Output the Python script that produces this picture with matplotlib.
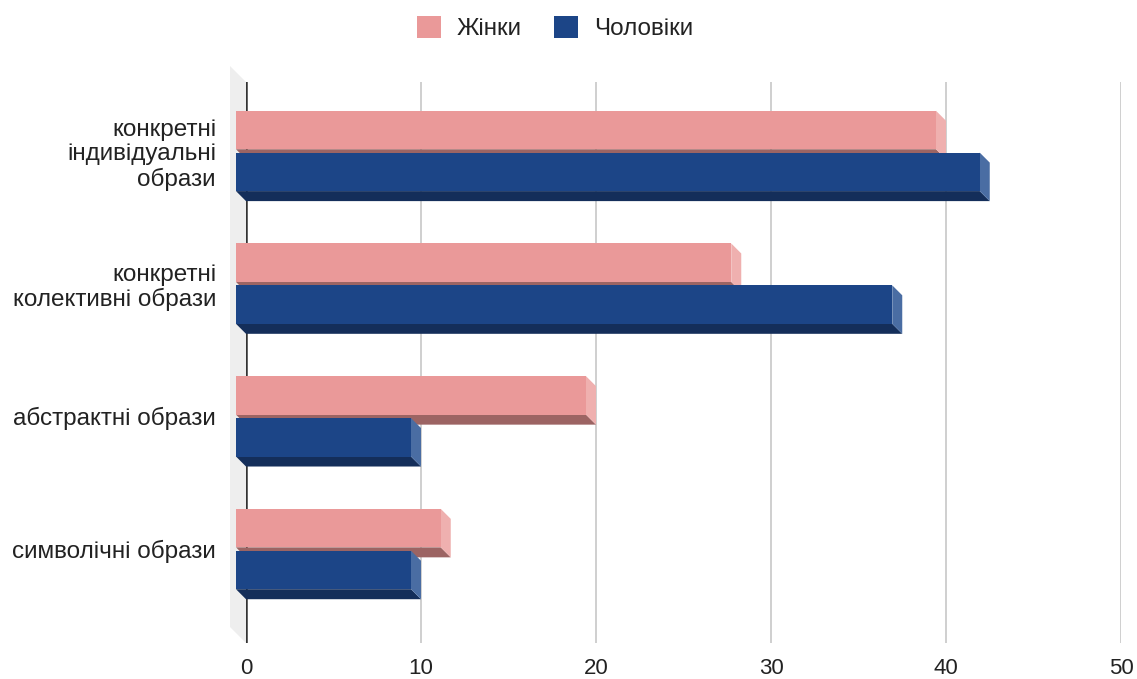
import matplotlib
matplotlib.use("Agg")
import numpy as np
import matplotlib.pyplot as plt
from matplotlib.patches import Polygon, Patch

plt.rcParams['font.family'] = ['Liberation Sans', 'DejaVu Sans']

# дані
categories = ["конкретні\nіндивідуальні\nобрази",
              "конкретні\nколективні образи",
              "абстрактні образи",
              "символічні образи"]
series_names = ["Жінки", "Чоловіки"]
women = [40, 28.3, 20, 11.7]
men = [42.5, 37.5, 10, 10]
xticks = [0, 10, 20, 30, 40, 50]

# кольори: лицьова грань, бокова грань, нижня грань
pink = ("#ea9999", "#efb0af", "#9c6463")
blue = ("#1c4587", "#4a6da3", "#142e5a")

W, H = 1137, 679
fig = plt.figure(figsize=(W / 100, H / 100), dpi=100)
ax = fig.add_axes([246 / W, (H - 643) / H, 875 / W, 561 / H])

xmax = 50
ytop, ybot = -0.5946, 3.633
ax.set_xlim(0, xmax)
ax.set_ylim(ybot, ytop)

# пікселі -> одиниці даних
px_x = xmax / 875
px_y = (ybot - ytop) / 561
ox, oy = 10 * px_x, 10 * px_y      # глибина стовпця
wx, wy = 16 * px_x, 16 * px_y      # глибина стінки

# ліва "стінка"
ax.add_patch(Polygon([(0, ytop), (-wx, ytop - wy), (-wx, ybot - wy), (0, ybot)],
                     closed=True, fc="#eeeeee", ec="none", clip_on=False, zorder=0))

ax.grid(axis='x', color='#cccccc', lw=1.3, zorder=1)
ax.axvline(0, color='#333333', lw=1.8, zorder=2)
ax.set_axisbelow(True)


def bar3d(yc, val, h, cols):
    top, bot = yc - h / 2, yc + h / 2
    front, side, bottom = cols
    ax.add_patch(Polygon([(-ox, bot - oy), (val - ox, bot - oy), (val, bot), (0, bot)],
                         closed=True, fc=bottom, ec='none', clip_on=False, zorder=3))
    ax.add_patch(Polygon([(val - ox, top - oy), (val, top), (val, bot), (val - ox, bot - oy)],
                         closed=True, fc=side, ec='none', clip_on=False, zorder=3))
    ax.add_patch(Polygon([(-ox, top - oy), (val - ox, top - oy), (val - ox, bot - oy), (-ox, bot - oy)],
                         closed=True, fc=front, ec='none', clip_on=False, zorder=3))


bh = 0.29
for i in range(len(categories)):
    bar3d(i - 0.1575, women[i], bh, pink)
    bar3d(i + 0.158, men[i], bh, blue)

for s in ax.spines.values():
    s.set_visible(False)

ax.set_xticks(xticks)
ax.set_xticklabels([str(t) for t in xticks], fontsize=16, color='#222222')
ax.tick_params(axis='x', length=0, pad=11)

ax.set_yticks(np.arange(len(categories)) - oy)
ax.set_yticklabels(categories, fontsize=17.5, color='#222222', linespacing=1.15)
ax.tick_params(axis='y', length=0, pad=21.6)

handles = [Patch(fc=pink[0], ec='none'), Patch(fc=blue[0], ec='none')]
fig.legend(handles, series_names, loc='center', bbox_to_anchor=(555 / W, 1 - 28 / H),
           ncol=2, frameon=False, fontsize=17.5, handlelength=0.99, handleheight=0.99,
           handletextpad=0.66, columnspacing=1.32, labelcolor='#222222')

fig.savefig("out.png", dpi=100)
